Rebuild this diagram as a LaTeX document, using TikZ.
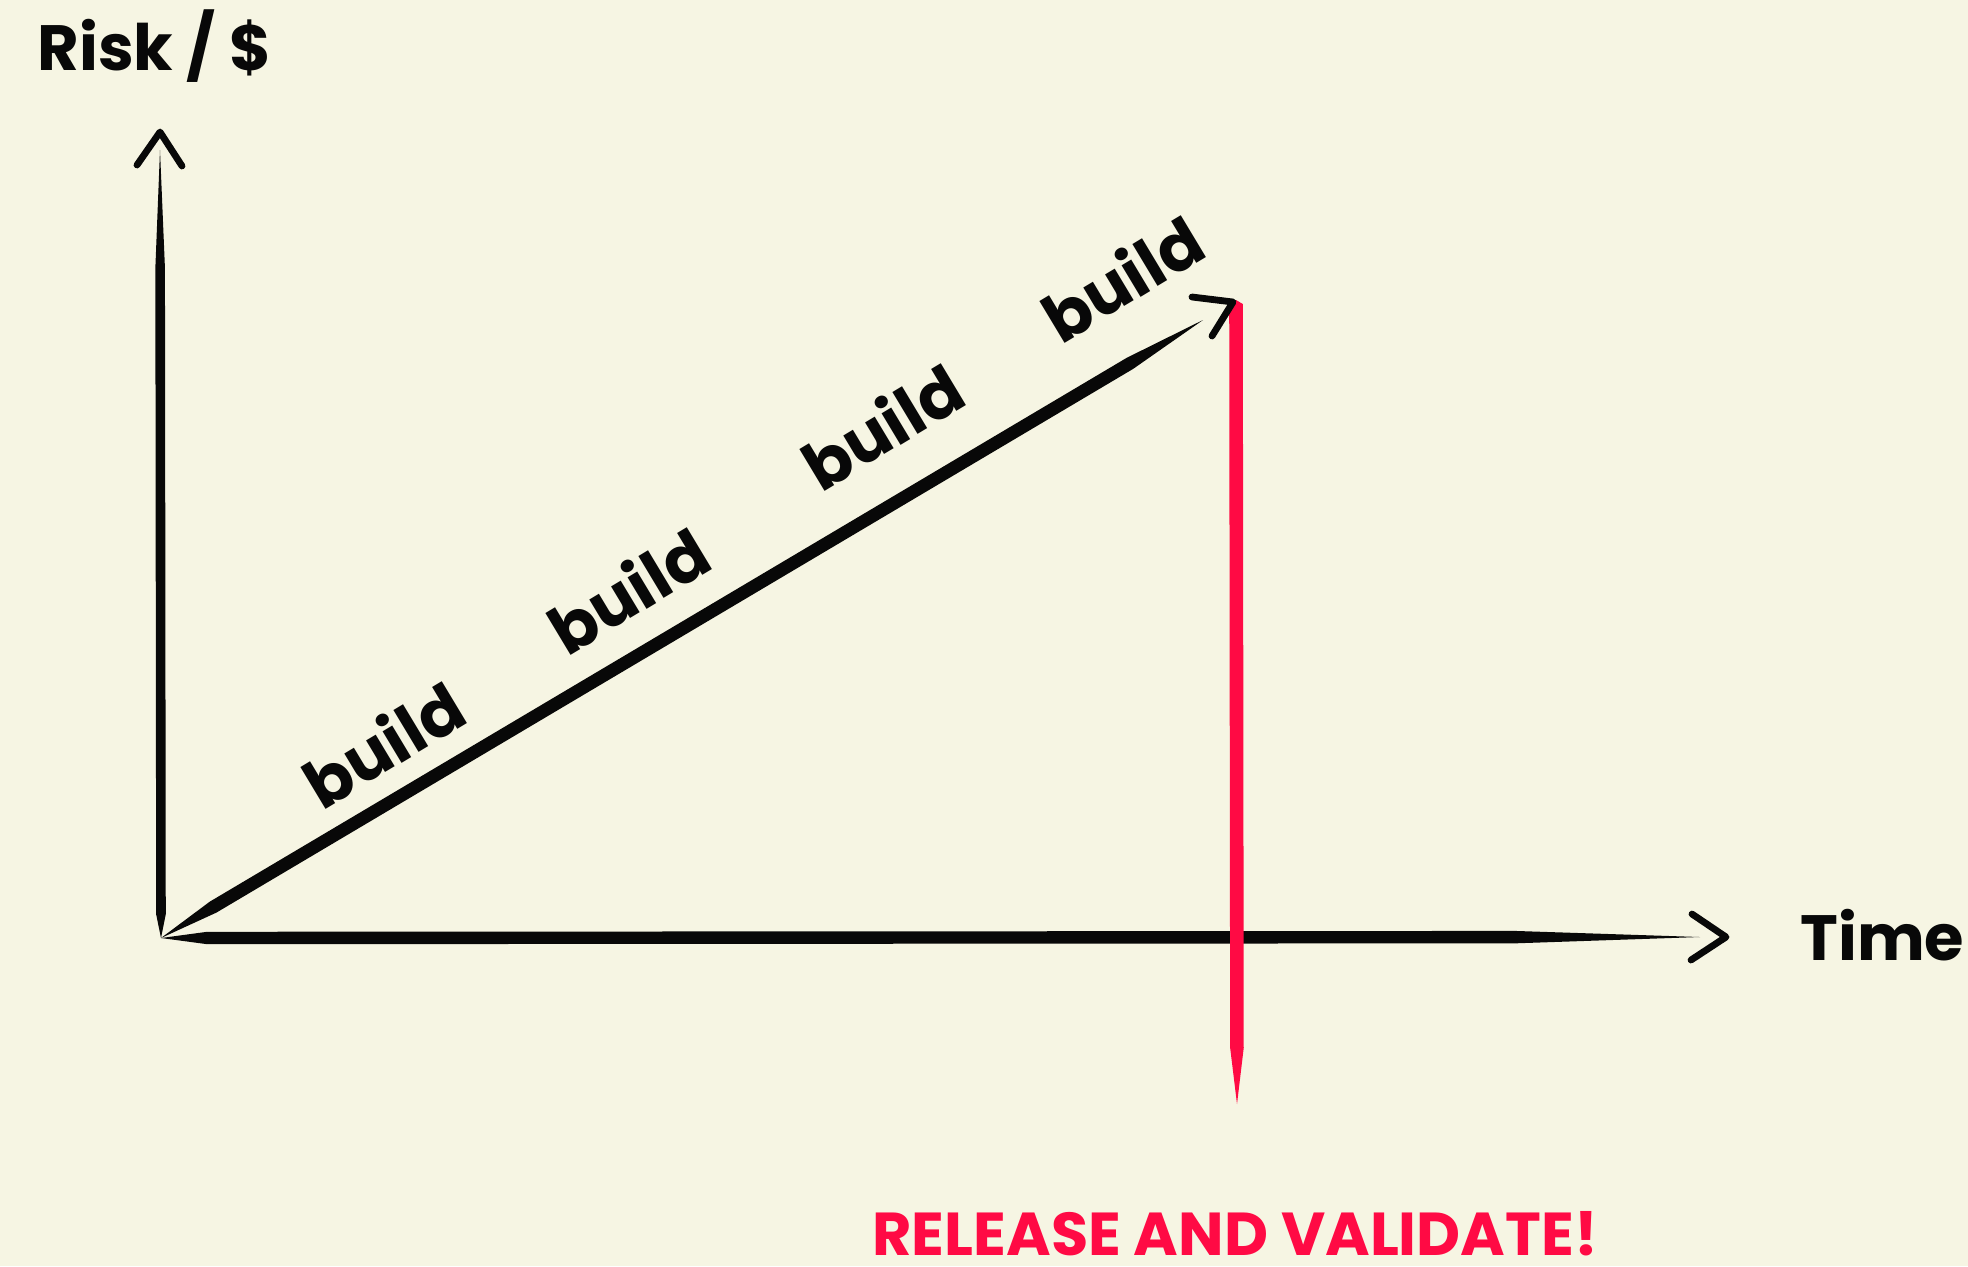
\documentclass[tikz,border=0pt]{standalone}
\usepackage{fontspec}
\setmainfont{Poppins}
\usetikzlibrary{calc}
\definecolor{paper}{RGB}{246,245,227}
\definecolor{alarm}{RGB}{255,10,68}
\definecolor{ink}{RGB}{8,8,8}
% tapered brush stroke from #2 to #3, half width #4,
% full width reached between fractions #5 and #6 of the way
\newcommand\brushline[6][ink]{%
  \fill[#1] (#2)
    -- ($(#2)!#5!(#3)!#4!90:(#3)$)
    -- ($(#2)!#6!(#3)!#4!90:(#3)$)
    -- (#3)
    -- ($(#2)!#6!(#3)!#4!-90:(#3)$)
    -- ($(#2)!#5!(#3)!#4!-90:(#3)$)
    -- cycle;}
\tikzset{
  chevron/.style={draw=ink, line width=3.4pt, line join=round, line cap=round},
  axislabel/.style={font=\bfseries\fontsize{32}{40}\selectfont, text=ink, inner sep=0pt},
  buildlabel/.style={font=\bfseries\fontsize{33}{40}\selectfont, text=ink, inner sep=0pt, rotate=31},
  shout/.style={font=\bfseries\fontsize{30.3}{38}\selectfont, text=alarm, inner sep=0pt}
}
\begin{document}
\begin{tikzpicture}[x=0.5pt,y=-0.5pt]
  \fill[paper] (0,0) rectangle (1968,1266);
  \useasboundingbox (0,0) rectangle (1968,1266);

  % key points
  \coordinate (O) at (161,938);
  \coordinate (ytop) at (160,150);
  \coordinate (xend) at (1700,937);
  \coordinate (dend) at (1203,320);
  \coordinate (rtop) at (1236,300);
  \coordinate (rbot) at (1237,1104);

  % axes and rising line
  \brushline{O}{ytop}{2.4pt}{0.03}{0.85}
  \brushline{O}{xend}{3.1pt}{0.03}{0.88}
  \brushline{O}{dend}{3.2pt}{0.05}{0.93}

  % release marker
  \brushline[alarm]{rtop}{rbot}{3.4pt}{0.005}{0.93}

  % arrowheads
  \coordinate (ya) at (160,132);
  \coordinate (yl) at (137,165);
  \coordinate (yr) at (182,166);
  \draw[chevron] (yl) -- (ya) -- (yr);

  \coordinate (xa) at (1726,937);
  \coordinate (xu) at (1692,914);
  \coordinate (xd) at (1691,960);
  \draw[chevron] (xu) -- (xa) -- (xd);

  \coordinate (da) at (1233,302);
  \coordinate (du) at (1192,297);
  \coordinate (dd) at (1212,336);
  \draw[chevron] (du) -- (da) -- (dd);

  % labels
  \node[axislabel, anchor=base west] (risk) at (37,70) {Risk / \$};
  \node[axislabel, anchor=base west] (time) at (1800,960) {Time};
  \node[shout, anchor=base west] (release) at (872,1255) {RELEASE AND VALIDATE!};

  \node[buildlabel] (b1) at (383,744) {build};
  \node[buildlabel] (b2) at (628,590) {build};
  \node[buildlabel] (b3) at (882,426) {build};
  \node[buildlabel] (b4) at (1122,278) {build};
\end{tikzpicture}
\end{document}
